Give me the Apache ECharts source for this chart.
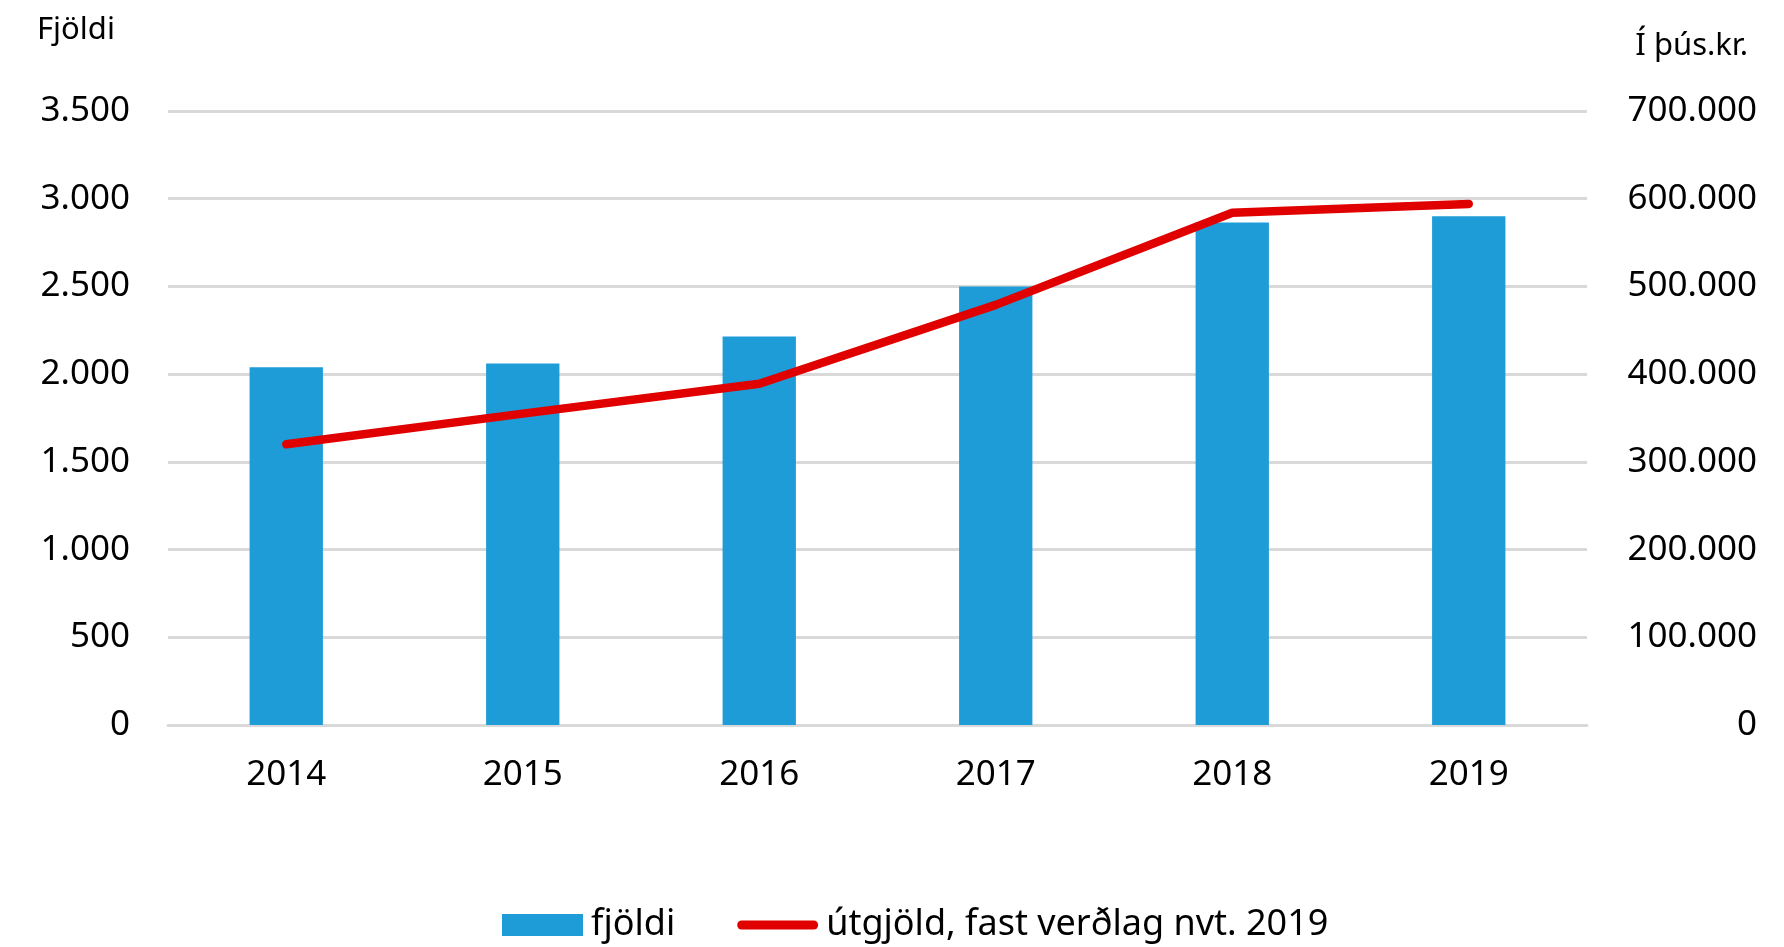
<!DOCTYPE html>
<html>
<head>
<meta charset="utf-8">
<script src="https://cdn.jsdelivr.net/npm/echarts@6/dist/echarts.min.js"></script>
<style>
  html, body { margin: 0; padding: 0; background: #fff; }
  #content { width: 1784px; height: 947px; }
</style>
</head>
<body>
<div id="content"></div>
<script>
var years = ['2014', '2015', '2016', '2017', '2018', '2019'];
var fjoldi = [2040, 2060, 2215, 2500, 2865, 2900];
var utgjold = [320000, 355000, 389000, 479000, 584000, 594000];

var myChart = echarts.init(document.getElementById('content'));

function dotted(v) {
    return String(v).replace(/\B(?=(\d{3})+(?!\d))/g, '.');
}

var font = 'Noto Sans';

option = {
    animation: false,
    grid: {left: 168, right: 197, top: 111, bottom: 222},
    legend: {
        top: 902,
        left: 497,
        itemGap: 62,
        itemWidth: 81,
        itemHeight: 22,
        textStyle: {fontFamily: font, fontSize: 36, color: '#000', padding: [0, 0, 0, 3]},
        data: [
            {name: 'fjöldi', icon: 'rect'},
            {
                name: 'útgjöld, fast verðlag nvt. 2019',
                icon: 'path://M4.5,0 L77.5,0 A4.5,4.5 0 0 1 77.5,9 L4.5,9 A4.5,4.5 0 0 1 4.5,0 Z',
                itemStyle: {color: '#e00000'}
            }
        ]
    },
    xAxis: {
        type: 'category',
        data: years,
        axisLine: {lineStyle: {color: '#d9d9d9', width: 3}},
        axisTick: {show: false},
        axisLabel: {fontFamily: font, fontSize: 35, color: '#000', margin: 33}
    },
    yAxis: [
        {
            type: 'value',
            min: 0, max: 3500, interval: 500,
            name: 'Fjöldi',
            nameLocation: 'end',
            nameGap: 0,
            nameTextStyle: {fontFamily: font, fontSize: 31, color: '#000', align: 'left', padding: [0, 0, 65, -131]},
            axisLine: {show: false},
            axisTick: {show: false},
            splitLine: {lineStyle: {color: '#d9d9d9', width: 3}},
            axisLabel: {fontFamily: font, fontSize: 35, color: '#000', margin: 38, formatter: dotted}
        },
        {
            type: 'value',
            min: 0, max: 700000, interval: 100000,
            name: 'Í þús.kr.',
            nameLocation: 'end',
            nameGap: 0,
            nameTextStyle: {fontFamily: font, fontSize: 31, color: '#000', align: 'right', padding: [0, -161, 49, 0]},
            axisLine: {show: false},
            axisTick: {show: false},
            splitLine: {show: false},
            axisLabel: {fontFamily: font, fontSize: 35, color: '#000', margin: 170, align: 'right', formatter: dotted}
        }
    ],
    series: [
        {
            name: 'fjöldi',
            type: 'bar',
            data: fjoldi,
            barWidth: '31%',
            itemStyle: {color: '#1e9cd7'}
        },
        {
            name: 'útgjöld, fast verðlag nvt. 2019',
            type: 'line',
            yAxisIndex: 1,
            data: utgjold,
            showSymbol: false,
            symbol: 'none',
            itemStyle: {color: '#e00000'},
            lineStyle: {color: '#e00000', width: 8.5, cap: 'round', join: 'round'}
        }
    ]
};
myChart.setOption(option);
</script>
</body>
</html>
